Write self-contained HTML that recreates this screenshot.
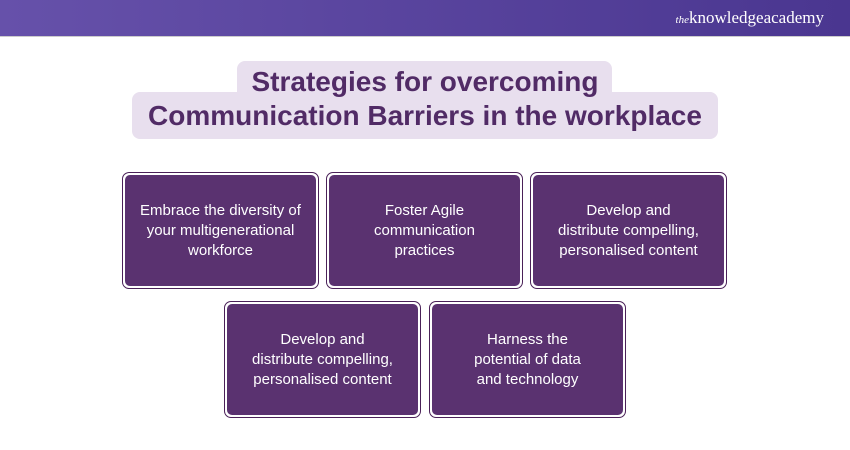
<!DOCTYPE html>
<html><head><style>
body{margin:0;width:850px;height:450px;background:#fff;position:relative;overflow:hidden;font-family:"Liberation Sans",sans-serif}
.hdr{position:absolute;left:0;top:0;width:850px;height:36px;background:linear-gradient(90deg,#6651aa,#4a3690);border-bottom:1px solid #ccc}
.logo{position:absolute;right:26px;top:8px;color:#fff;font-family:"Liberation Serif",serif;font-size:17px}
.logo i{font-size:11px}
.p{position:absolute;background:#e8dfee;border-radius:8px}
.t{position:absolute;left:0;width:850px;text-align:center;color:#512b66;font-weight:bold;font-size:28px;line-height:37px}
.c{position:absolute;width:191px;height:111px;border:1.5px solid #4a2158;border-radius:7px;padding:2px;box-sizing:content-box}
.c div{width:100%;height:100%;background:#5a3270;border-radius:5px;display:flex;align-items:center;justify-content:center;text-align:center;color:#fff;font-size:15px;line-height:20px}
</style></head><body>
<div class="hdr"><div class="logo"><i>the</i>knowledge<b style="font-weight:normal">academy</b></div></div>
<div class="p" style="left:237px;top:61px;width:375px;height:40px"></div>
<div class="p" style="left:132px;top:92px;width:586px;height:47px"></div>
<div class="t" style="top:63px">Strategies for overcoming</div>
<div class="t" style="top:97px">Communication Barriers in the workplace</div>
<div class="c" style="left:122px;top:172px"><div>Embrace the diversity of<br>your multigenerational<br>workforce</div></div>
<div class="c" style="left:326px;top:172px"><div>Foster Agile<br>communication<br>practices</div></div>
<div class="c" style="left:530px;top:172px"><div>Develop and<br>distribute compelling,<br>personalised content</div></div>
<div class="c" style="left:224px;top:301px"><div>Develop and<br>distribute compelling,<br>personalised content</div></div>
<div class="c" style="left:429px;top:301px"><div>Harness the<br>potential of data<br>and technology</div></div>
</body></html>
